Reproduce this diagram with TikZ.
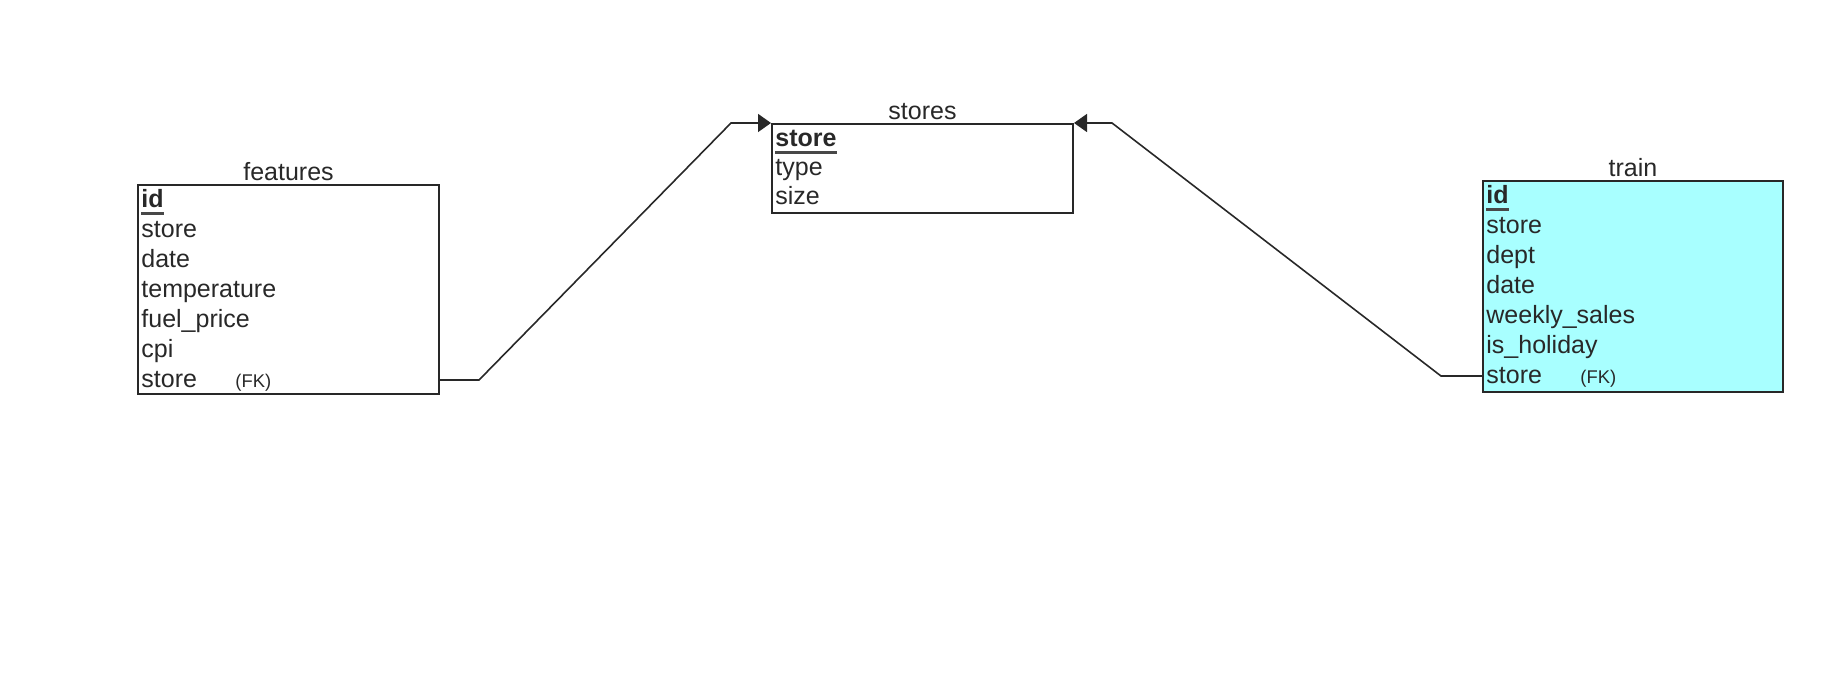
\documentclass[tikz,border=0pt]{standalone}
\usepackage{fontspec}
\setmainfont{Liberation Sans}
\usetikzlibrary{positioning,calc,arrows.meta}

\definecolor{tablecyan}{RGB}{168,255,255}
\definecolor{inkgray}{RGB}{40,40,40}

\tikzset{
  table/.style={draw=inkgray, line width=1pt, rectangle, inner sep=0pt},
  title/.style={inner sep=0pt, text=inkgray},
  field/.style={inner sep=0pt, anchor=base west, text=inkgray},
  fktag/.style={inner sep=0pt, anchor=base west, font=\fontsize{9.2}{11}\selectfont, text=inkgray},
  pkline/.style={line width=1.3pt, draw=inkgray!85},
  link/.style={draw=inkgray, line width=0.8pt, -{Triangle[length=6.5pt,width=9pt]}},
}

\begin{document}
\begin{tikzpicture}[x=0.5pt, y=-0.5pt]\fontsize{12.5}{14}\selectfont
  \useasboundingbox (0,0) rectangle (1840,688);
  % tables
  \node[table, minimum width=150.5pt, minimum height=104.5pt] (features) at (288.5,289.5) {};
  \node[table, minimum width=150.5pt, minimum height=44.5pt] (stores) at (922.5,168.5) {};
  \node[table, fill=tablecyan, minimum width=150pt, minimum height=105.5pt] (train) at (1633,286.5) {};
  \node[title, above=1.5pt of features] {features};
  \node[title, above=1.5pt of stores] {stores};
  \node[title, above=1.5pt of train] {train};

  % features fields
  \node[field, font=\bfseries] (feat-id) at ($(features.north west)+(4,24)$) {id};
  \foreach \f [count=\i] in {store,date,temperature,fuel\_price,cpi,store}
    \node[field] (feat-\i) at ($(features.north west)+(4,24+30*\i)$) {\f};
  \node[fktag] at ($(feat-6.base west)+(94,0)$) {(FK)};

  % stores fields
  \node[field, font=\bfseries] (stores-id) at ($(stores.north west)+(4,24)$) {store};
  \foreach \f [count=\i] in {type,size}
    \node[field] (stores-\i) at ($(stores.north west)+(4,24+29*\i)$) {\f};

  % train fields
  \node[field, font=\bfseries] (train-id) at ($(train.north west)+(4,24)$) {id};
  \foreach \f [count=\i] in {store,dept,date,weekly\_sales,is\_holiday,store}
    \node[field] (train-\i) at ($(train.north west)+(4,24+30*\i)$) {\f};
  \node[fktag] at ($(train-6.base west)+(94,0)$) {(FK)};

  % primary key underlines
  \foreach \k in {feat-id,stores-id,train-id}
    \draw[pkline] ([yshift=-2.5pt]\k.south west) -- ([yshift=-2.5pt]\k.south east);

  % foreign keys
  \draw[link] (features.east |- feat-6) -- ++(39,0) -- ($(stores.north west)+(-40,0)$) -- (stores.north west);
  \draw[link] (train.west |- train-6) -- ++(-41,0) -- ($(stores.north east)+(38,0)$) -- (stores.north east);
\end{tikzpicture}
\end{document}
